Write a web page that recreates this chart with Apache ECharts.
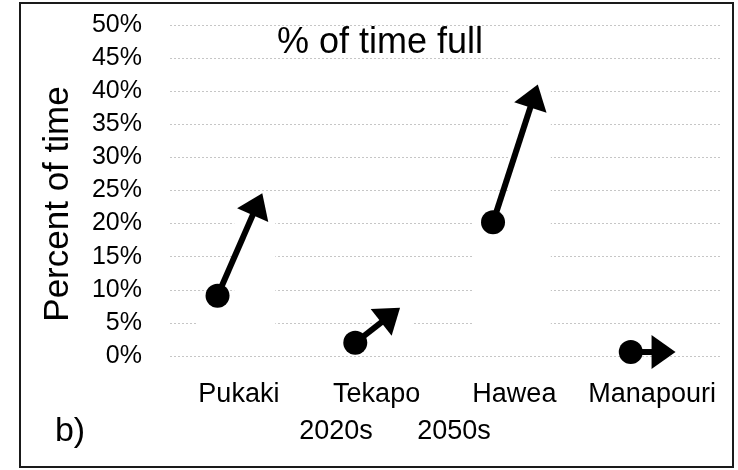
<!DOCTYPE html>
<html>
<head>
<meta charset="utf-8">
<script src="https://cdn.jsdelivr.net/npm/echarts@6/dist/echarts.min.js"></script>
<style>
  html, body { margin: 0; padding: 0; background: #fff; }
</style>
</head>
<body>
<div id="chart" style="width: 738px; height: 470px"></div>
<script>
// lakes on the x axis
const categories = ["Pukaki", "Tekapo", "Hawea", "Manapouri"];
// percent of time full, dot = 2020s, arrow tip = 2050s
const full2020s = [9.1, 2.0, 20.2, 0.6];
const full2050s = [24.6, 7.3, 41.0, 0.6];
const yTicks = [0, 5, 10, 15, 20, 25, 30, 35, 40, 45, 50];

const FONT = "Liberation Sans";
// dot sits left of the category centre, the arrow tip right of it (share of band)
const DOT_SHIFT = -0.155;
const TIP_SHIFT = 0.17;

const chart = echarts.init(document.getElementById("chart"));

function renderArrow(params, api) {
  const i = api.value(0);
  const c0 = api.coord([i, api.value(1)]);
  const c1 = api.coord([i, api.value(2)]);
  const zeroY = api.coord([i, 0])[1];
  const band = api.size([1, 0])[0];
  const dot = [c0[0] + DOT_SHIFT * band, c0[1]];
  const tip = [c1[0] + TIP_SHIFT * band, c1[1]];

  const dx = tip[0] - dot[0];
  const dy = tip[1] - dot[1];
  const len = Math.sqrt(dx * dx + dy * dy);
  const ux = dx / len, uy = dy / len;
  const nx = -uy, ny = ux;
  const headLen = 24, headHalf = 17;
  const base = [tip[0] - ux * headLen, tip[1] - uy * headLen];

  const children = [];
  // white patches where the original shapes hide the gridlines
  const boxes = [
    [tip[0] - 28, tip[1] + 4, tip[0] + 13, dot[1]],
    [dot[0] - 20, dot[1] - 2, tip[0] + 13, zeroY - 8],
  ];
  boxes.forEach((b) => {
    if (b[3] - b[1] > 0) {
      children.push({
        type: "rect",
        shape: { x: b[0], y: b[1], width: b[2] - b[0], height: b[3] - b[1] },
        style: { fill: "#fff" },
      });
    }
  });
  children.push({
    type: "line",
    shape: { x1: dot[0], y1: dot[1], x2: base[0] + ux * 3, y2: base[1] + uy * 3 },
    style: { stroke: "#000", lineWidth: 6 },
  });
  children.push({
    type: "polygon",
    shape: {
      points: [
        tip,
        [base[0] + nx * headHalf, base[1] + ny * headHalf],
        [base[0] - nx * headHalf, base[1] - ny * headHalf],
      ],
    },
    style: { fill: "#000" },
  });
  children.push({
    type: "circle",
    shape: { cx: dot[0], cy: dot[1], r: 12 },
    style: { fill: "#000" },
  });
  return { type: "group", children: children };
}

const option = {
  animation: false,
  backgroundColor: "#fff",
  grid: { left: 170, right: 17, top: 25, bottom: 114, containLabel: false },
  xAxis: {
    type: "category",
    data: categories,
    axisLine: { show: false },
    axisTick: { show: false },
    splitLine: { show: false },
    axisLabel: { fontFamily: FONT, fontSize: 27, color: "#000", margin: 25, interval: 0 },
  },
  yAxis: {
    type: "value",
    min: yTicks[0],
    max: yTicks[yTicks.length - 1],
    interval: 5,
    axisLine: { show: false },
    axisTick: { show: false },
    axisLabel: {
      fontFamily: FONT,
      fontSize: 25,
      color: "#000",
      margin: 28,
      formatter: "{value}%",
    },
    splitLine: { lineStyle: { color: "#c6c6c6", type: [2, 2], width: 1 } },
  },
  graphic: [
    {
      type: "rect",
      shape: { x: 20, y: 3, width: 713, height: 464 },
      style: { fill: null, stroke: "#1a1a1a", lineWidth: 2 },
    },
    {
      type: "text",
      x: 380,
      y: 43,
      style: { text: "% of time full", font: "36px " + FONT, fill: "#000", textAlign: "center", textVerticalAlign: "middle" },
    },
    {
      type: "text",
      x: 58,
      y: 204,
      rotation: Math.PI / 2,
      style: { text: "Percent of time", font: "35px " + FONT, fill: "#000", textAlign: "center", textVerticalAlign: "middle" },
    },
    {
      type: "text",
      x: 70,
      y: 432,
      style: { text: "b)", font: "34px " + FONT, fill: "#000", textAlign: "center", textVerticalAlign: "middle" },
    },
    {
      type: "text",
      x: 336,
      y: 432,
      style: { text: "2020s", font: "27px " + FONT, fill: "#000", textAlign: "center", textVerticalAlign: "middle" },
    },
    {
      type: "text",
      x: 454,
      y: 432,
      style: { text: "2050s", font: "27px " + FONT, fill: "#000", textAlign: "center", textVerticalAlign: "middle" },
    },
  ],
  series: [
    {
      type: "custom",
      renderItem: renderArrow,
      encode: { x: 0, y: [1, 2] },
      data: categories.map((c, i) => [i, full2020s[i], full2050s[i]]),
    },
  ],
};

chart.setOption(option);
</script>
</body>
</html>
